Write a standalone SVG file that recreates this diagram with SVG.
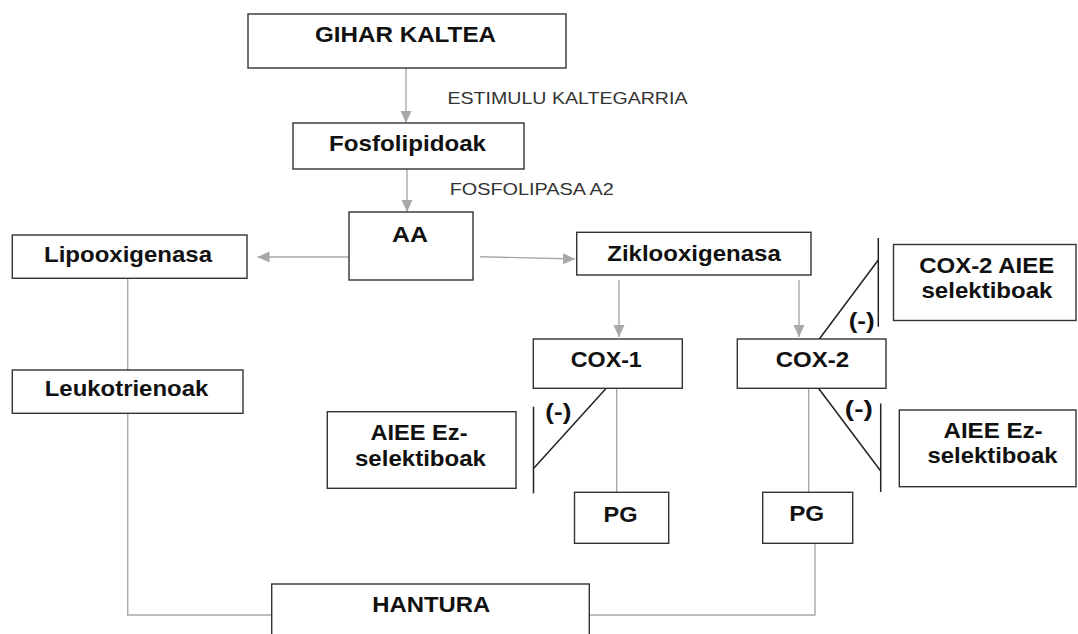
<svg xmlns="http://www.w3.org/2000/svg" width="1078" height="634" viewBox="0 0 1078 634">
<style>
.n{fill:#fff;stroke:#333;stroke-width:1.4}
.b{font-family:"Liberation Sans",Arial,sans-serif;font-weight:bold;font-size:22px;fill:#111;text-anchor:middle}
.r{font-family:"Liberation Sans",Arial,sans-serif;font-size:17px;fill:#333;text-anchor:middle}
.c{fill:none;stroke:#a8a8a8;stroke-width:1.4}
.i{fill:none;stroke:#222;stroke-width:1.5}
</style>
<defs>
<marker id="ah" markerUnits="userSpaceOnUse" markerWidth="13" markerHeight="12" refX="12" refY="6" orient="auto">
<path d="M0,0.5 L12,6 L0,11.5 z" fill="#a8a8a8"/>
</marker>
</defs>
<rect width="1078" height="634" fill="#fff"/>
<g id="connectors">
<line class="c" x1="406" y1="68" x2="406" y2="123" marker-end="url(#ah)"/>
<line class="c" x1="407" y1="169" x2="407" y2="212" marker-end="url(#ah)"/>
<line class="c" x1="349" y1="257" x2="257.5" y2="257" marker-end="url(#ah)"/>
<line class="c" x1="480" y1="256.7" x2="575" y2="259" marker-end="url(#ah)"/>
<line class="c" x1="619" y1="280" x2="619" y2="337" marker-end="url(#ah)"/>
<line class="c" x1="799" y1="280" x2="799" y2="337" marker-end="url(#ah)"/>
<line class="c" x1="127.7" y1="278" x2="127.7" y2="370"/>
<polyline class="c" points="127.7,413 127.7,615 271.5,615"/>
<line class="c" x1="616.7" y1="388" x2="616.7" y2="492.5"/>
<line class="c" x1="808.7" y1="388" x2="808.7" y2="492.5"/>
<polyline class="c" points="815,543.5 815,615 589.5,615"/>
<line class="i" x1="606" y1="388.5" x2="534" y2="468"/>
<line class="i" x1="533.5" y1="406.7" x2="533.5" y2="493.3"/>
<line class="i" x1="819.3" y1="339" x2="878.3" y2="260"/>
<line class="i" x1="878.3" y1="238" x2="878.3" y2="326.7"/>
<line class="i" x1="818.3" y1="388" x2="880.7" y2="471"/>
<line class="i" x1="880.7" y1="403.5" x2="880.7" y2="492"/>
<text class="b" x="558.3" y="419" textLength="26" lengthAdjust="spacingAndGlyphs">(-)</text>
<text class="b" x="861.7" y="328" textLength="26" lengthAdjust="spacingAndGlyphs">(-)</text>
<text class="b" x="858.8" y="416" textLength="28" lengthAdjust="spacingAndGlyphs">(-)</text>
<text class="r" x="567.5" y="104" textLength="240" lengthAdjust="spacingAndGlyphs">ESTIMULU KALTEGARRIA</text>
<text class="r" x="531.7" y="195" textLength="164" lengthAdjust="spacingAndGlyphs">FOSFOLIPASA A2</text>
</g>
<g id="gihar">
<rect class="n" x="248" y="14" width="318" height="54"/>
<text class="b" x="405.5" y="41.7" textLength="181" lengthAdjust="spacingAndGlyphs">GIHAR KALTEA</text>
</g>
<g id="fosfolipidoak">
<rect class="n" x="293" y="123" width="231" height="46"/>
<text class="b" x="407.5" y="150.7" textLength="157" lengthAdjust="spacingAndGlyphs">Fosfolipidoak</text>
</g>
<g id="aa">
<rect class="n" x="349" y="212" width="124" height="68"/>
<text class="b" x="410" y="242.3" textLength="36" lengthAdjust="spacingAndGlyphs">AA</text>
</g>
<g id="lipooxigenasa">
<rect class="n" x="12.3" y="235" width="234.7" height="43.3"/>
<text class="b" x="128" y="262.3" textLength="168" lengthAdjust="spacingAndGlyphs">Lipooxigenasa</text>
</g>
<g id="ziklooxigenasa">
<rect class="n" x="576.7" y="232.3" width="234.3" height="42.7"/>
<text class="b" x="694" y="260.7" textLength="173.5" lengthAdjust="spacingAndGlyphs">Ziklooxigenasa</text>
</g>
<g id="leukotrienoak">
<rect class="n" x="12.3" y="370" width="230.7" height="43.3"/>
<text class="b" x="126.5" y="396" textLength="163.5" lengthAdjust="spacingAndGlyphs">Leukotrienoak</text>
</g>
<g id="cox1">
<rect class="n" x="533.3" y="339" width="149" height="49.3"/>
<text class="b" x="606.3" y="366.7" textLength="71" lengthAdjust="spacingAndGlyphs">COX-1</text>
</g>
<g id="cox2">
<rect class="n" x="737.3" y="339" width="148.7" height="49.3"/>
<text class="b" x="812.5" y="366.7" textLength="73.5" lengthAdjust="spacingAndGlyphs">COX-2</text>
</g>
<g id="cox2-aiee">
<rect class="n" x="893.5" y="244.5" width="182.5" height="76"/>
<text class="b" x="986.7" y="272.7" textLength="135" lengthAdjust="spacingAndGlyphs">COX-2 AIEE</text>
<text class="b" x="987" y="298.3" textLength="131" lengthAdjust="spacingAndGlyphs">selektiboak</text>
</g>
<g id="aiee-left">
<rect class="n" x="327.3" y="411.7" width="188.7" height="76.6"/>
<text class="b" x="419" y="440" textLength="97" lengthAdjust="spacingAndGlyphs">AIEE Ez-</text>
<text class="b" x="420.5" y="466" textLength="131" lengthAdjust="spacingAndGlyphs">selektiboak</text>
</g>
<g id="aiee-right">
<rect class="n" x="899.3" y="410" width="176.7" height="76.7"/>
<text class="b" x="993" y="438.3" textLength="99" lengthAdjust="spacingAndGlyphs">AIEE Ez-</text>
<text class="b" x="992.5" y="463.3" textLength="130" lengthAdjust="spacingAndGlyphs">selektiboak</text>
</g>
<g id="pg1">
<rect class="n" x="574.5" y="492.3" width="94.2" height="51"/>
<text class="b" x="620.5" y="521.7" textLength="34" lengthAdjust="spacingAndGlyphs">PG</text>
</g>
<g id="pg2">
<rect class="n" x="762.7" y="492.3" width="90" height="51"/>
<text class="b" x="806.7" y="520.7" textLength="35" lengthAdjust="spacingAndGlyphs">PG</text>
</g>
<g id="hantura">
<rect class="n" x="271.7" y="584" width="317.6" height="60"/>
<text class="b" x="431.3" y="612.3" textLength="118" lengthAdjust="spacingAndGlyphs">HANTURA</text>
</g>
</svg>
